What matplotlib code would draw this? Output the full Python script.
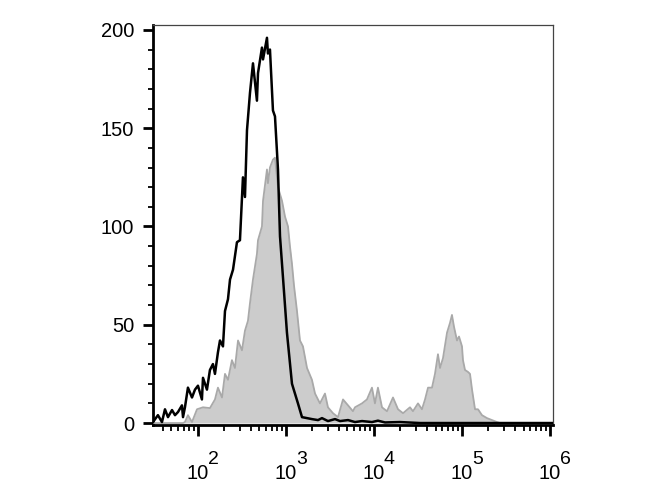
#!/usr/bin/env python
"""Flow cytometry overlay: unstained control (black outline) vs stained sample (grey fill)."""
import numpy as np
import matplotlib
matplotlib.use("Agg")
import matplotlib.pyplot as plt
from matplotlib.ticker import LogLocator, MultipleLocator, NullFormatter
import matplotlib.transforms as mtransforms

plt.rcParams["font.family"] = ["Liberation Sans", "DejaVu Sans"]

# control histogram (black line): log10 intensity, event count
CTRL_LOG = [1.489, 1.545, 1.591, 1.625, 1.659, 1.705, 1.739, 1.773, 1.818, 1.830, 1.852,
            1.886, 1.932, 1.966, 2.000, 2.045, 2.057, 2.102, 2.136, 2.170, 2.193, 2.227,
            2.250, 2.284, 2.307, 2.341, 2.364, 2.398, 2.443, 2.477, 2.511, 2.534, 2.557,
            2.591, 2.625, 2.670, 2.682, 2.727, 2.739, 2.784, 2.795, 2.818, 2.852, 2.875,
            2.909, 2.932, 2.966, 3.011, 3.068, 3.136, 3.182, 3.239, 3.295, 3.364, 3.409,
            3.477, 3.557, 3.614, 3.705, 3.784, 3.864, 3.977, 4.045, 4.125, 4.295, 4.523, 6.03]
CTRL_COUNT = [0.5, 4, 0.5, 7, 3, 6.6, 4, 5.6, 9, 3, 8,
              18, 13, 17, 19, 12, 23, 17, 27, 30, 25, 36,
              42, 39, 57, 63, 73, 78, 92, 93, 125, 115, 149,
              168, 183, 164, 178, 191, 185, 196, 188, 190, 159, 156,
              129, 95, 74, 46, 20, 10, 3, 2.5, 2, 1.5, 2.5,
              1, 2, 1, 1.5, 0.5, 1, 0.5, 1.2, 0.3, 0.5, 0, 0]

# stained histogram (grey fill)
STAIN_LOG = [1.489, 1.830, 1.852, 1.886, 1.932, 1.989, 2.057, 2.136, 2.193, 2.227, 2.273,
             2.307, 2.341, 2.386, 2.420, 2.455, 2.500, 2.534, 2.568, 2.591, 2.625, 2.670,
             2.682, 2.727, 2.739, 2.784, 2.795, 2.818, 2.852, 2.875, 2.909, 2.955, 2.989,
             3.023, 3.045, 3.068, 3.091, 3.125, 3.159, 3.193, 3.239, 3.295, 3.330, 3.386,
             3.443, 3.477, 3.534, 3.591, 3.648, 3.705, 3.761, 3.784, 3.864, 3.920, 3.977,
             4.011, 4.045, 4.091, 4.148, 4.216, 4.273, 4.330, 4.409, 4.443, 4.500, 4.545,
             4.580, 4.614, 4.659, 4.693, 4.727, 4.750, 4.784, 4.830, 4.864, 4.886, 4.909,
             4.943, 4.966, 5.000, 5.011, 5.034, 5.068, 5.091, 5.114, 5.148, 5.182, 5.227,
             5.284, 5.341, 5.398, 5.432, 6.03]
STAIN_COUNT = [0, 0, 0.5, 4, 0.5, 7, 8, 7.6, 12, 18, 13,
               25, 22, 32, 28, 42, 37, 47, 52, 61, 73, 86,
               93, 100, 113, 129, 122, 130, 134, 135, 120, 113, 105,
               100, 90, 81, 70, 57, 42, 39, 28, 22, 15, 10,
               15, 8, 5, 3, 12, 9, 6, 8, 10, 12, 18,
               10, 18, 8, 6, 13, 7, 5, 8, 6, 10, 7,
               12, 18, 18, 25, 35, 28, 33, 46, 51, 55, 49,
               42, 44, 39, 32, 27, 26, 25, 17, 7, 7, 4,
               2.5, 1.5, 0.5, 0, 0]

Y_TICKS = [0, 50, 100, 150, 200]
X_DECADES = [2, 3, 4, 5, 6]

ctrl_x = 10 ** np.array(CTRL_LOG)
stain_x = 10 ** np.array(STAIN_LOG)

fig = plt.figure(figsize=(6.7, 5.0), dpi=100)
ax = fig.add_axes([153 / 670, 1 - 425 / 500, 400 / 670, 400 / 500])

ax.fill_between(stain_x, STAIN_COUNT, 0, color="#cccccc", lw=0, zorder=2)
ax.plot(stain_x, STAIN_COUNT, color="#a9a9a9", lw=1.3, zorder=3)
ax.plot(ctrl_x, CTRL_COUNT, color="black", lw=1.8, zorder=4)

ax.set_xscale("log")
ax.set_xlim(10 ** 1.489, 10 ** 6.034)
ax.set_ylim(-1.0, 202.5)

# y axis
ax.set_yticks(Y_TICKS)
ax.yaxis.set_minor_locator(MultipleLocator(10))
ax.tick_params(axis="y", which="major", direction="out", length=7.5, width=2,
               labelsize=14.5, pad=6)
ax.tick_params(axis="y", which="minor", direction="out", length=3.5, width=1.3)

# x axis: ticks only, labels drawn by hand as 10 + raised exponent
ax.xaxis.set_major_locator(LogLocator(base=10, numticks=10))
ax.xaxis.set_minor_locator(LogLocator(base=10, subs=np.arange(2, 10), numticks=20))
ax.xaxis.set_major_formatter(NullFormatter())
ax.xaxis.set_minor_formatter(NullFormatter())
ax.tick_params(axis="x", which="major", direction="out", length=8, width=2)
ax.tick_params(axis="x", which="minor", direction="out", length=4, width=1.3)

trans = mtransforms.blended_transform_factory(ax.transData, ax.transAxes)
off = mtransforms.offset_copy(trans, fig=fig, x=10, y=14, units="dots")
for d in X_DECADES:
    ax.text(10 ** d, -0.122, "10", transform=trans, ha="center", va="center", fontsize=14.5)
    ax.text(10 ** d, -0.122, str(d), transform=off, ha="left", va="center", fontsize=14)

for side in ("left", "bottom"):
    ax.spines[side].set_linewidth(2)
    ax.spines[side].set_color("black")
for side in ("top", "right"):
    ax.spines[side].set_linewidth(0.9)
    ax.spines[side].set_color("#444444")

fig.savefig("out.png", dpi=100)
plt.close(fig)
